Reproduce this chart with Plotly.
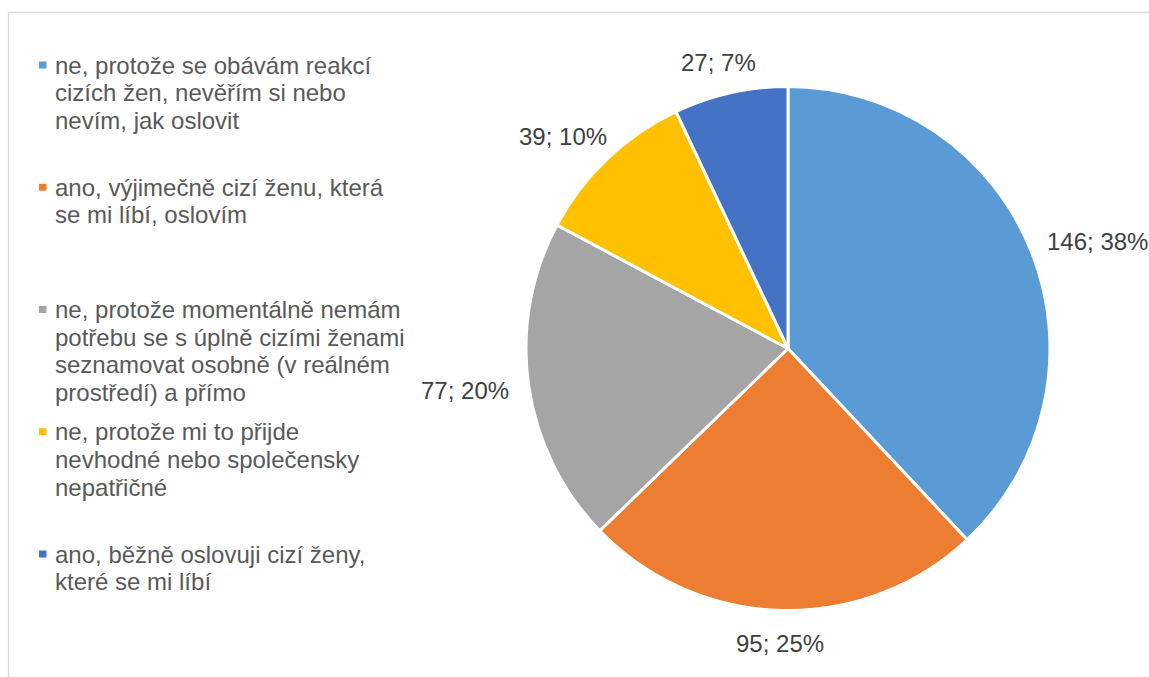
import math
import plotly.graph_objects as go

# Survey answers (legend text is pre-wrapped into lines)
legend_lines = [
    ["ne, protože se obávám reakcí", "cizích žen, nevěřím si nebo", "nevím, jak oslovit"],
    ["ano, výjimečně cizí ženu, která", "se mi líbí, oslovím"],
    ["ne, protože momentálně nemám", "potřebu se s úplně cizími ženami",
     "seznamovat osobně (v reálném", "prostředí) a přímo"],
    ["ne, protože mi to přijde", "nevhodné nebo společensky", "nepatřičné"],
    ["ano, běžně oslovuji cizí ženy,", "které se mi líbí"],
]
counts = [146, 95, 77, 39, 27]
colors = ["#5B9BD5", "#ED7D31", "#A5A5A5", "#FFC000", "#4472C4"]

W, H = 1149, 677
FONT = "Liberation Sans, Arial, sans-serif"
FS = 24


def px(x):
    return x / W


def py(y):
    return 1 - y / H


labels = [" ".join(lines) for lines in legend_lines]

# pie geometry in pixels
cx, cy, r = 788, 348.5, 262

fig = go.Figure(
    go.Pie(
        labels=labels,
        values=counts,
        sort=False,
        direction="clockwise",
        rotation=0,
        marker=dict(colors=colors, line=dict(color="white", width=3)),
        textinfo="none",
        domain=dict(x=[px(cx - r), px(cx + r)], y=[py(cy + r), py(cy - r)]),
        showlegend=False,
        hoverinfo="label+value+percent",
    )
)

annotations = []
shapes = []

# data labels "count; share" just outside the end of each slice
ARIAL_W = {ch: 0.556 for ch in "0123456789"}
ARIAL_W.update({";": 0.278, " ": 0.278, "%": 0.889})
total = sum(counts)
start = 0.0
gap = 20
for v in counts:
    sweep = v / total * 360
    mid = math.radians(start + sweep / 2)
    start += sweep
    ux, uy = math.sin(mid), -math.cos(mid)
    txt = f"{v}; {round(v / total * 100)}%"
    hw = sum(ARIAL_W.get(c, 0.556) for c in txt) * FS / 2
    hh = FS / 2
    lx = cx + ux * (r + gap) + hw * ux
    ly = cy + uy * (r + gap) + hh * uy
    annotations.append(dict(
        text=txt, xref="paper", yref="paper", x=px(lx), y=py(ly + 1),
        xanchor="center", yanchor="middle", showarrow=False,
        font=dict(family=FONT, size=FS, color="#404040"),
    ))

# hand-built legend: colour square + wrapped text
item_top, item_step, line_step = 65, 122.25, 27.7
for i, (lines, col) in enumerate(zip(legend_lines, colors)):
    y0 = item_top + i * item_step
    shapes.append(dict(
        type="rect", xref="paper", yref="paper",
        x0=px(39), x1=px(46.5), y0=py(y0 - 3.5), y1=py(y0 + 3.5),
        fillcolor=col, line=dict(width=0),
    ))
    for j, line in enumerate(lines):
        annotations.append(dict(
            text=line, xref="paper", yref="paper",
            x=px(52.5), y=py(y0 + j * line_step),
            xanchor="left", yanchor="middle", showarrow=False,
            font=dict(family=FONT, size=FS, color="#595959"),
        ))

# outer chart frame
shapes.append(dict(
    type="rect", xref="paper", yref="paper",
    x0=px(8.5), x1=px(W + 20), y0=py(H + 20), y1=py(12.5),
    line=dict(color="#D9D9D9", width=1.3), fillcolor="rgba(0,0,0,0)", layer="below",
))

fig.update_layout(
    width=W, height=H,
    margin=dict(l=0, r=0, t=0, b=0),
    paper_bgcolor="white",
    plot_bgcolor="white",
    annotations=annotations,
    shapes=shapes,
)

fig.write_html("out.html")
